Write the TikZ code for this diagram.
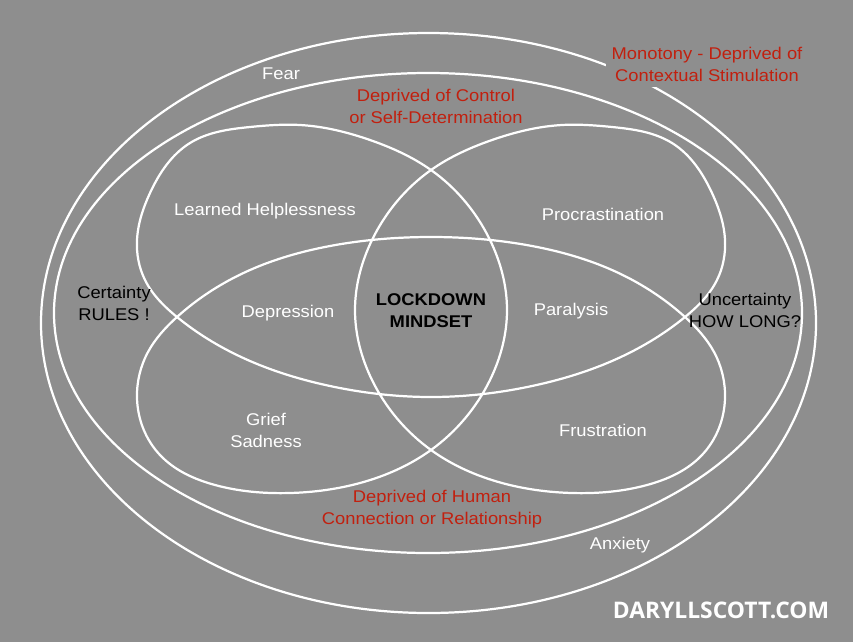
\documentclass[tikz,border=0pt]{standalone}
\usepackage{fontspec}
\usetikzlibrary{hobby}
\setmainfont{Liberation Sans}[FakeStretch=1.08]
\newfontfamily\logofont{Open Sans}
\definecolor{bg}{HTML}{8E8E8E}
\definecolor{lred}{HTML}{C1200F}
\begin{document}
\begin{tikzpicture}[x=0.03cm,y=-0.03cm,
  ring/.style={draw=white,line width=1.9pt},
  lbl/.style={font=\fontsize{14.5}{18.8}\selectfont,align=center,inner sep=0pt},
  wlbl/.style={lbl,text=white},
  rlbl/.style={lbl,text=lred},
  klbl/.style={lbl,text=black}]
\fill[bg] (0,0) rectangle (853,642);
\draw[ring] (428.5,323) ellipse [x radius=387.5, y radius=290];
\draw[ring] (428,313) ellipse [x radius=374, y radius=240];
\draw[ring, use Hobby shortcut, closed=true]
(300,125) .. (370,140) .. (431,170) .. (490,240) .. (507,310) .. (490,380) .. (431,450)
.. (360,483) .. (290,493) .. (215,485) .. (160,455) .. (137,398) .. (148,352) .. (177,317)
.. (250,270) .. (330,246) .. (431,237) .. (532,246) .. (612,270) .. (685,317)
.. (714,352) .. (725,398) .. (702,455) .. (647,485) .. (572,493) .. (502,483) .. (431,450)
.. (372,380) .. (355,310) .. (372,240) .. (431,170)
.. (492,140) .. (562,125) .. (612,127) .. (672,143) .. (712,193) .. (725,240) .. (717,280) .. (685,317)
.. (612,361) .. (532,386) .. (431,397) .. (330,386) .. (250,361) .. (177,317)
.. (145,280) .. (137,240) .. (150,193) .. (190,143) .. (250,127);
\node[wlbl] (fear) at (281,74) {Fear};
\node[rlbl, fill=bg, inner sep=5pt] (mono) at (707,64) {Monotony - Deprived of\\Contextual Stimulation};
\node[rlbl] (ctrl) at (436,106) {Deprived of Control\\or Self-Determination};
\node[wlbl] (lh) at (265,211) {Learned Helplessness};
\node[wlbl] (proc) at (603,214) {Procrastination};
\node[klbl] (cert) at (114,303) {Certainty\\RULES !};
\node[wlbl] (dep) at (288,313) {Depression};
\node[klbl, font=\fontsize{14.5}{18.8}\selectfont\bfseries] (lock) at (431,311) {LOCKDOWN\\MINDSET};
\node[wlbl] (para) at (571,311) {Paralysis};
\node[klbl] (unc) at (745,310) {Uncertainty\\HOW LONG?};
\node[wlbl] (grief) at (266,430) {Grief\\Sadness};
\node[wlbl] (frus) at (603,430) {Frustration};
\node[rlbl] (human) at (432,509) {Deprived of Human\\Connection or Relationship};
\node[wlbl] (anx) at (620,545) {Anxiety};
\node[text=white, font=\logofont\bfseries\fontsize{19.5}{20}\selectfont, inner sep=0pt] (logo) at (721,610) {DARYLLSCOTT.COM};
\end{tikzpicture}
\end{document}
